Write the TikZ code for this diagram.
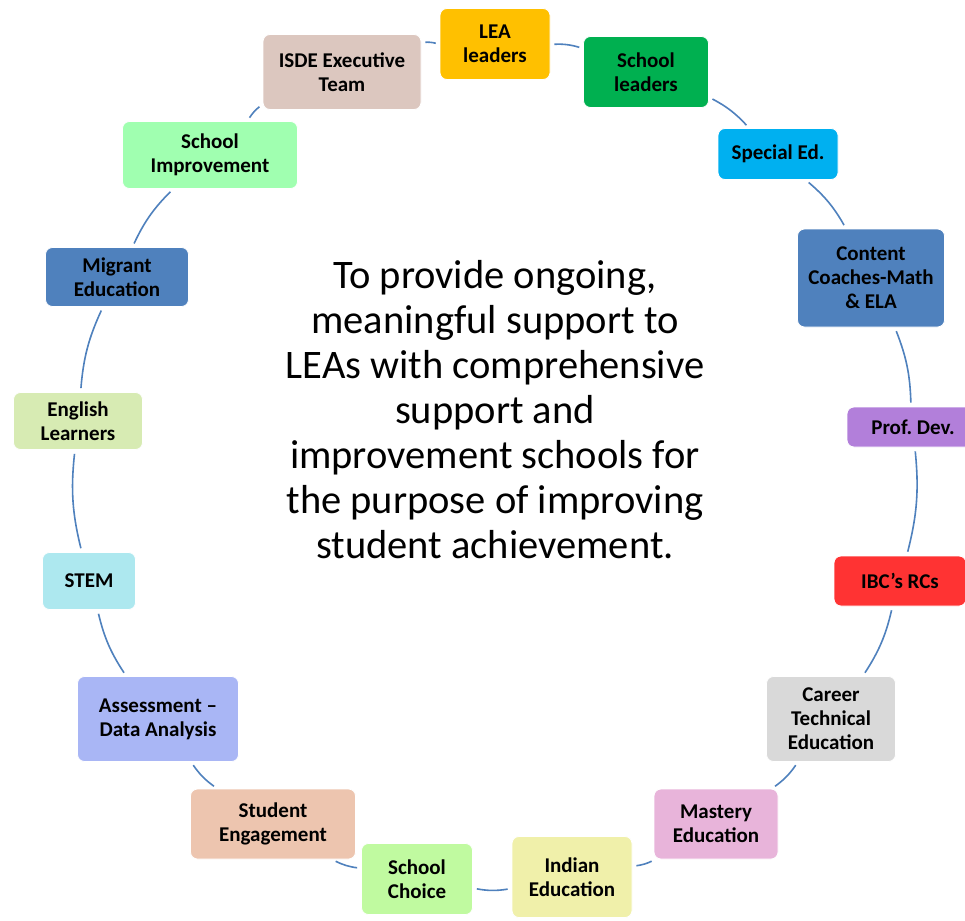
\documentclass[tikz,border=0pt]{standalone}
\usepackage{fontspec}
\setmainfont{Carlito}
\frenchspacing
\definecolor{cLEA}{HTML}{FFC000}
\definecolor{cSL}{HTML}{00B050}
\definecolor{cSE}{HTML}{00B0F0}
\definecolor{cCC}{HTML}{4F81BD}
\definecolor{cPD}{HTML}{B27FDA}
\definecolor{cIBC}{HTML}{FF3333}
\definecolor{cCTE}{HTML}{D9D9D9}
\definecolor{cME}{HTML}{E8B4DA}
\definecolor{cIE}{HTML}{F0F0AA}
\definecolor{cSC}{HTML}{C0FAA0}
\definecolor{cSTE}{HTML}{EDC5AF}
\definecolor{cAS}{HTML}{A9B6F5}
\definecolor{cSTEM}{HTML}{ADE8EF}
\definecolor{cEL}{HTML}{D7EBB3}
\definecolor{cMIG}{HTML}{4F81BD}
\definecolor{cSI}{HTML}{A0FFB0}
\definecolor{cISDE}{HTML}{DCC7BF}
\definecolor{cLine}{HTML}{4F81BD}
\begin{document}
\begin{tikzpicture}[x=1pt,y=-1pt,
  box/.style={rounded corners=7pt, draw=white, line width=0.8pt,
    font=\bfseries\fontsize{21}{24}\selectfont, align=center, inner sep=0pt},
  conn/.style={draw=cLine, line width=1.6pt, shorten <=4pt, shorten >=4pt, bend left=10}]
\useasboundingbox (0,0) rectangle (965,920);
\clip (0,0) rectangle (965,920);
\fill[white] (0,0) rectangle (965,920);

\node[box, fill=cLEA, minimum width=110pt, minimum height=71pt] (lea) at (495,44) {LEA\\leaders};
\node[box, fill=cSL, minimum width=125pt, minimum height=71pt] (sl) at (646,72) {School\\leaders};
\node[box, fill=cSE, minimum width=120pt, minimum height=51pt] (se) at (778,154) {Special Ed.};
\node[box, fill=cCC, minimum width=147pt, minimum height=98pt] (cc) at (871,278) {Content\\Coaches-Math\\\& ELA};
\node[box, fill=cPD, minimum width=132pt, minimum height=40pt] (pd) at (913,427) {Prof. Dev.};
\node[box, fill=cIBC, minimum width=132pt, minimum height=50pt] (ibc) at (900,581) {IBC’s RCs};
\node[box, fill=cCTE, minimum width=129pt, minimum height=85pt] (cte) at (831,719) {Career\\Technical\\Education};
\node[box, fill=cME, minimum width=124pt, minimum height=70pt] (me) at (716,824) {Mastery\\Education};
\node[box, fill=cIE, minimum width=120pt, minimum height=81pt] (ie) at (572,877) {Indian\\Education};
\node[box, fill=cSC, minimum width=111pt, minimum height=71pt] (sc) at (417,879) {School\\Choice};
\node[box, fill=cSTE, minimum width=165pt, minimum height=70pt] (ste) at (273,824) {Student\\Engagement};
\node[box, fill=cAS, minimum width=161pt, minimum height=85pt] (as) at (158,719) {Assessment –\\Data Analysis};
\node[box, fill=cSTEM, minimum width=93pt, minimum height=57pt] (stem) at (89,581) {STEM};
\node[box, fill=cEL, minimum width=129pt, minimum height=57pt] (el) at (78,421) {English\\Learners};
\node[box, fill=cMIG, minimum width=143pt, minimum height=59pt] (mig) at (117,277) {Migrant\\Education};
\node[box, fill=cSI, minimum width=175pt, minimum height=67pt] (si) at (210,155) {School\\Improvement};
\node[box, fill=cISDE, minimum width=158pt, minimum height=75pt] (isde) at (342,72) {ISDE Executive\\Team};

\node[align=center, font=\fontsize{40.5}{45}\selectfont, inner sep=0pt] (center) at (495,410)
  {To provide ongoing,\\meaningful support to\\LEAs with comprehensive\\support and\\improvement schools for\\the purpose of improving\\student achievement.};

\draw[conn] (lea) to (sl);
\draw[conn] (sl) to (se);
\draw[conn] (se) to (cc);
\draw[conn] (cc) to (pd);
\draw[conn] (pd) to (ibc);
\draw[conn] (ibc) to (cte);
\draw[conn] (cte) to (me);
\draw[conn] (me) to (ie);
\draw[conn] (ie) to (sc);
\draw[conn] (sc) to (ste);
\draw[conn] (ste) to (as);
\draw[conn] (as) to (stem);
\draw[conn] (stem) to (el);
\draw[conn] (el) to (mig);
\draw[conn] (mig) to (si);
\draw[conn] (si) to (isde);
\draw[conn] (isde) to (lea);
\end{tikzpicture}
\end{document}
